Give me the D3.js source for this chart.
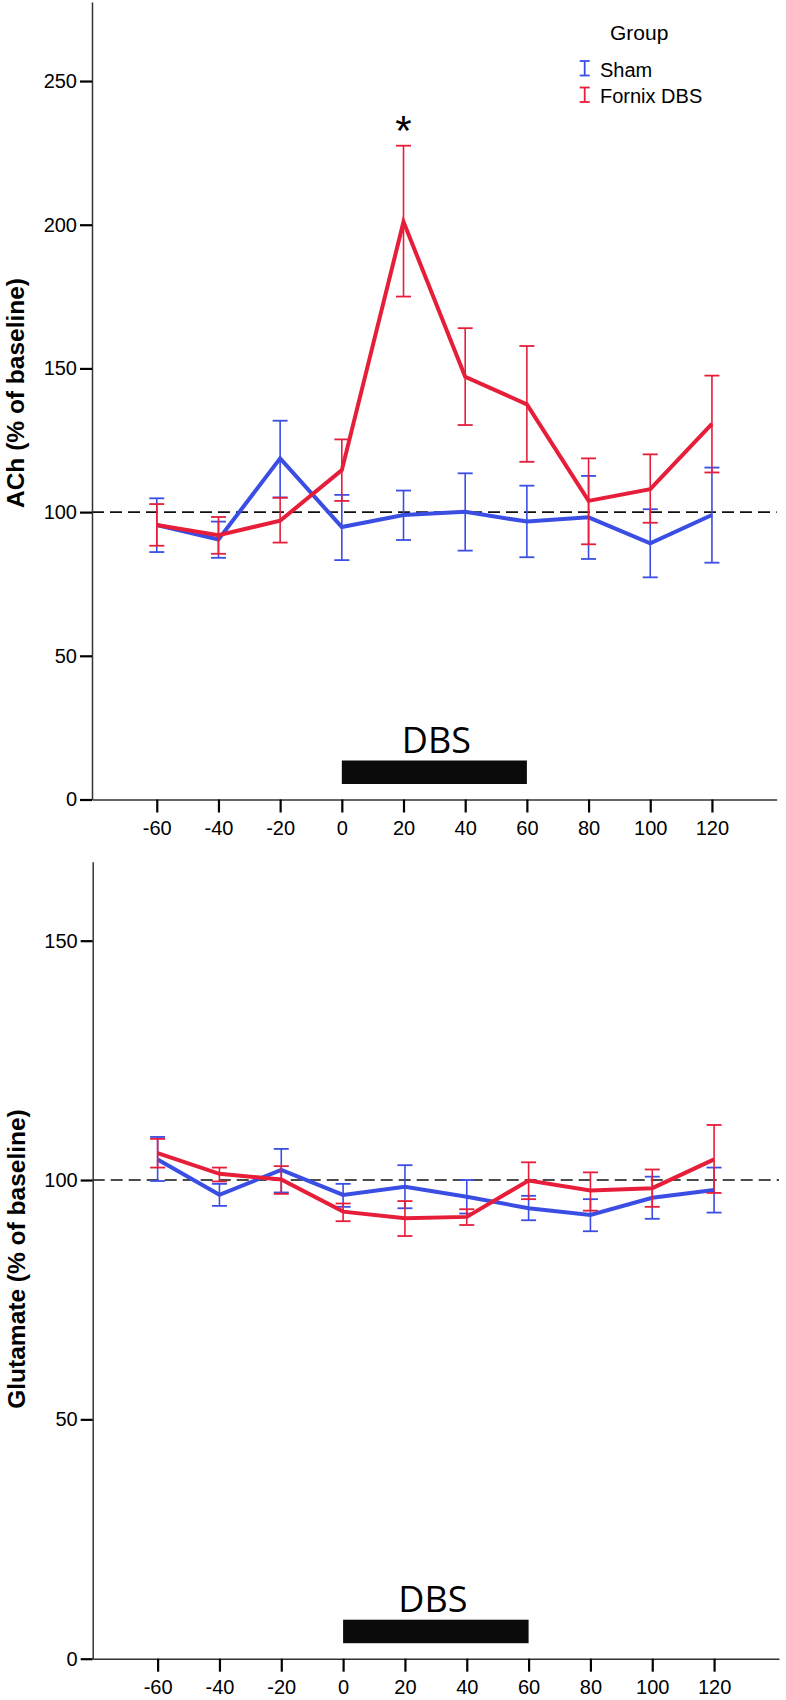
<!DOCTYPE html>
<html>
<head>
<meta charset="utf-8">
<script src="https://cdn.jsdelivr.net/npm/d3@7"></script>
<style>
  html, body { margin: 0; padding: 0; background: #fff; }
  svg { display: block; }
</style>
</head>
<body>
<svg id="chart" width="786" height="1700"></svg>
<script>
// ---------------- DATA ----------------
const times = [-60, -40, -20, 0, 20, 40, 60, 80, 100, 120];
const xTicks = [-60, -40, -20, 0, 20, 40, 60, 80, 100, 120];
const groups = ["Sham", "Fornix DBS"];

// ACh (% of baseline)
const achSham      = [95.5, 90.5, 118.7, 94.8, 99.0, 100.1, 96.7, 98.2, 89.1, 99.0];
const achShamHi    = [104.8, 96.7, 131.8, 106.0, 107.5, 113.5, 109.2, 112.6, 101.0, 115.5];
const achShamLo    = [86.1, 84.1, 105.1, 83.3, 90.3, 86.6, 84.3, 83.7, 77.3, 82.4];
const achFornix    = [95.5, 92.0, 97.0, 114.6, 201.0, 147.1, 137.5, 103.9, 108.0, 130.7];
const achFornixHi  = [102.8, 98.3, 105.0, 125.3, 227.5, 164.0, 157.8, 118.7, 120.1, 147.5];
const achFornixLo  = [88.3, 85.5, 89.4, 103.9, 175.0, 130.3, 117.5, 88.8, 96.3, 113.8];
const achTicks = [0, 50, 100, 150, 200, 250];
const achMax = 277.5;

// Glutamate (% of baseline)
const gluSham      = [104.3, 96.9, 102.1, 96.9, 98.6, 96.5, 94.1, 92.7, 96.3, 97.9];
const gluShamHi    = [109.0, 99.2, 106.5, 99.2, 103.1, 100.0, 96.7, 96.0, 100.7, 102.6];
const gluShamLo    = [99.8, 94.6, 97.4, 94.4, 94.1, 93.0, 91.6, 89.3, 91.9, 93.2];
const gluFornix    = [105.6, 101.3, 100.1, 93.4, 92.0, 92.3, 99.9, 97.8, 98.3, 104.3];
const gluFornixHi  = [108.6, 102.6, 102.9, 95.1, 95.6, 93.9, 103.7, 101.6, 102.2, 111.5];
const gluFornixLo  = [102.6, 99.7, 97.1, 91.4, 88.3, 90.6, 96.0, 93.6, 94.4, 97.3];
const gluTicks = [0, 50, 100, 150];
const gluMax = 166.5;

const baseline = 100;
const dbsStart = 0, dbsEnd = 60;
const sigTimes = [20];   // asterisk over Fornix DBS at these times
const xDomain = [-81, 141];

// ---------------- STYLE ----------------
const colors = { "Sham": "#3a4ee3", "Fornix DBS": "#e61e3a" };
const tickFont = "Liberation Sans, Arial, Helvetica, sans-serif";

const svg = d3.select("#chart");

function drawPanel(p) {
  const g = svg.append("g");
  const x = d3.scaleLinear().domain(xDomain).range([p.left, p.right]);
  const y = d3.scaleLinear().domain([0, p.yMax]).range([p.bottom, p.top]);

  // DBS bar + label
  g.append("rect")
    .attr("x", x(dbsStart)).attr("width", x(dbsEnd) - x(dbsStart))
    .attr("y", p.bottom - 39).attr("height", 23.5)
    .attr("fill", "#0a0b0a");
  g.append("text")
    .attr("x", x((dbsStart + dbsEnd) / 2) + p.dbsDx)
    .attr("y", p.bottom - 47)
    .attr("text-anchor", "middle")
    .style("font-family", "'Open Sans', sans-serif")
    .style("font-size", "36px")
    .style("fill", "#000")
    .text("DBS");

  // baseline dashed line
  g.append("line")
    .attr("x1", p.left).attr("x2", p.right)
    .attr("y1", y(baseline)).attr("y2", y(baseline))
    .attr("stroke", "#111").attr("stroke-width", 1.6)
    .attr("stroke-dasharray", "12,6");

  // axes
  const fmt = d => String(d);
  const yAxis = d3.axisLeft(y).tickValues(p.yTicks).tickFormat(fmt)
    .tickSize(12).tickPadding(3).tickSizeOuter(0);
  const yg = g.append("g").attr("transform", `translate(${p.left},0)`).call(yAxis);
  const xAxis = d3.axisBottom(x).tickValues(xTicks).tickFormat(fmt)
    .tickSize(13).tickPadding(8).tickSizeOuter(0);
  const xg = g.append("g").attr("transform", `translate(0,${p.bottom})`).call(xAxis);
  [yg, xg].forEach(a => {
    a.attr("font-family", tickFont).attr("font-size", 20);
    a.select(".domain").attr("stroke", "#333").attr("stroke-width", 1.5);
    a.selectAll(".tick line").attr("stroke", "#000").attr("stroke-width", 2.2);
    a.selectAll(".tick text")
      .style("font-family", tickFont).style("font-size", "20px").attr("fill", "#000");
  });

  // y axis title
  g.append("text")
    .attr("transform", `translate(${p.labelX},${p.labelY}) rotate(-90)`)
    .attr("text-anchor", "middle")
    .style("font-family", tickFont)
    .style("font-weight", "bold")
    .style("font-size", "24.5px")
    .style("fill", "#000")
    .text(p.yLabel);

  // series
  const line = d3.line().x(d => x(d.t)).y(d => y(d.v));
  p.series.forEach(s => {
    const data = times.map((t, i) => ({ t, v: s.mean[i], lo: s.lo[i], hi: s.hi[i] }));
    const c = colors[s.name];
    const eb = g.append("g");
    eb.selectAll("line.v").data(data).join("line")
      .attr("x1", d => x(d.t)).attr("x2", d => x(d.t))
      .attr("y1", d => y(d.lo)).attr("y2", d => y(d.hi))
      .attr("stroke", c).attr("stroke-width", 1.6);
    ["lo", "hi"].forEach(k => {
      eb.selectAll("line.c" + k).data(data).join("line")
        .attr("x1", d => x(d.t) - 7.5).attr("x2", d => x(d.t) + 7.5)
        .attr("y1", d => y(d[k])).attr("y2", d => y(d[k]))
        .attr("stroke", c).attr("stroke-width", 1.8);
    });
    g.append("path").datum(data)
      .attr("d", line)
      .attr("fill", "none").attr("stroke", c)
      .attr("stroke-width", 4).attr("stroke-linejoin", "miter");
  });

  // significance
  if (p.sig) {
    sigTimes.forEach(t => {
      const i = times.indexOf(t);
      g.append("text")
        .attr("x", x(t)).attr("y", y(p.sig.hi[i]) - 1)
        .attr("text-anchor", "middle")
        .style("font-family", tickFont).style("font-size", "42px")
        .style("fill", "#000")
        .text("*");
    });
  }
  return g;
}

drawPanel({
  left: 92, right: 776.7, top: 2, bottom: 799.5, yMax: achMax, yTicks: achTicks,
  yLabel: "ACh (% of baseline)", labelX: 24, labelY: 393, dbsDx: 2,
  series: [
    { name: "Sham", mean: achSham, lo: achShamLo, hi: achShamHi },
    { name: "Fornix DBS", mean: achFornix, lo: achFornixLo, hi: achFornixHi }
  ],
  sig: { hi: achFornixHi }
});

drawPanel({
  left: 92.7, right: 779, top: 861.7, bottom: 1658.7, yMax: gluMax, yTicks: gluTicks,
  yLabel: "Glutamate (% of baseline)", labelX: 25, labelY: 1259, dbsDx: -3,
  series: [
    { name: "Sham", mean: gluSham, lo: gluShamLo, hi: gluShamHi },
    { name: "Fornix DBS", mean: gluFornix, lo: gluFornixLo, hi: gluFornixHi }
  ]
});

// legend (top panel)
const lg = svg.append("g");
lg.append("text").attr("x", 610).attr("y", 40)
  .style("font-family", tickFont).style("font-size", "21px").style("fill", "#000")
  .text("Group");
groups.forEach((name, i) => {
  const yTop = 61 + i * 26.5, yBot = yTop + 14.5, cx = 584.7;
  const c = colors[name];
  lg.append("line").attr("x1", cx).attr("x2", cx).attr("y1", yTop).attr("y2", yBot)
    .attr("stroke", c).attr("stroke-width", 1.8);
  [yTop, yBot].forEach(yy => lg.append("line")
    .attr("x1", cx - 5).attr("x2", cx + 5).attr("y1", yy).attr("y2", yy)
    .attr("stroke", c).attr("stroke-width", 1.8));
  lg.append("text").attr("x", 600).attr("y", 77 + i * 26)
    .style("font-family", tickFont).style("font-size", "20px").style("fill", "#000")
    .text(name);
});
</script>
</body>
</html>
